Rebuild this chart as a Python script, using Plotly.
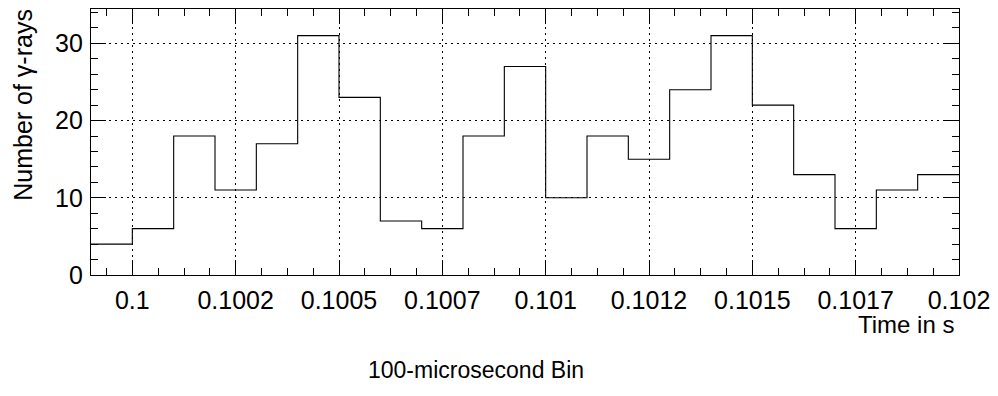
import numpy as np
import plotly.graph_objects as go

# ---- data ----
bin_start = 0.0999          # left edge of first bin (s)
bin_width = 0.0001          # 100 microseconds
counts = [4, 6, 18, 11, 17, 31, 23, 7, 6, 18, 27, 10, 18, 15, 24, 31, 22, 13, 6, 11, 13]
x_tick_values = [0.1, 0.10025, 0.1005, 0.10075, 0.101, 0.10125, 0.1015, 0.10175, 0.102]
x_tick_labels = ["0.1", "0.1002", "0.1005", "0.1007", "0.101", "0.1012", "0.1015", "0.1017", "0.102"]
y_tick_values = [0, 10, 20, 30]
y_max = 34.45

edges = bin_start + bin_width * np.arange(len(counts) + 1)
step_y = counts + [counts[-1]]

FONT = "Liberation Sans, Arial, Helvetica, sans-serif"
W, H = 998, 396
ML, MR, MT, MB = 91, 37, 8, 121
PW, PH = W - ML - MR, H - MT - MB

fig = go.Figure()
fig.add_trace(go.Scatter(
    x=edges, y=step_y, mode="lines", line=dict(shape="hv", color="black", width=1.1),
    hoverinfo="skip", showlegend=False,
))

axis_common = dict(
    showline=True, linecolor="black", linewidth=1.2, mirror="allticks",
    ticks="inside", tickcolor="black", tickwidth=1, ticklen=15,
    showgrid=True, gridcolor="black", gridwidth=1, griddash="2px,4px",
    zeroline=False, tickfont=dict(family=FONT, size=25, color="black"),
)

fig.update_xaxes(
    **axis_common,
    range=[edges[0], edges[-1]],
    tickmode="array", tickvals=x_tick_values, ticktext=x_tick_labels,
    minor=dict(tickmode="linear", tick0=x_tick_values[0], dtick=(x_tick_values[1] - x_tick_values[0]) / 4,
               ticks="inside", ticklen=7, tickcolor="black", tickwidth=1, showgrid=False),
    ticklabelstandoff=3,
)
fig.update_yaxes(
    **axis_common,
    range=[0, y_max],
    tickmode="array", tickvals=y_tick_values,
    minor=dict(tickmode="linear", tick0=0, dtick=2,
               ticks="inside", ticklen=7, tickcolor="black", tickwidth=1, showgrid=False),
    ticklabelstandoff=2,
)

def px_x(p):
    return (p - ML) / PW

def px_y(p):
    return (H - MB - p) / PH

fig.add_annotation(text="Number of γ-rays", xref="paper", yref="paper",
                   x=px_x(22), y=px_y(104), xanchor="center", yanchor="middle",
                   textangle=-90, showarrow=False,
                   font=dict(family=FONT, size=25, color="black"))
fig.add_annotation(text="Time in s", xref="paper", yref="paper",
                   x=px_x(957), y=px_y(325), xanchor="right", yanchor="middle",
                   showarrow=False, borderpad=0,
                   font=dict(family=FONT, size=24, color="black"))
fig.add_annotation(text="100-microsecond Bin", xref="paper", yref="paper",
                   x=px_x(477), y=px_y(370), xanchor="center", yanchor="middle",
                   showarrow=False, font=dict(family=FONT, size=23, color="black"))

fig.update_layout(
    width=W, height=H, margin=dict(l=ML, r=MR, t=MT, b=MB),
    paper_bgcolor="white", plot_bgcolor="white",
    font=dict(family=FONT, color="black"),
)

fig.write_html("out.html", config={"displayModeBar": False},
               post_script="document.body.style.margin='0px';document.body.style.padding='0px';")
